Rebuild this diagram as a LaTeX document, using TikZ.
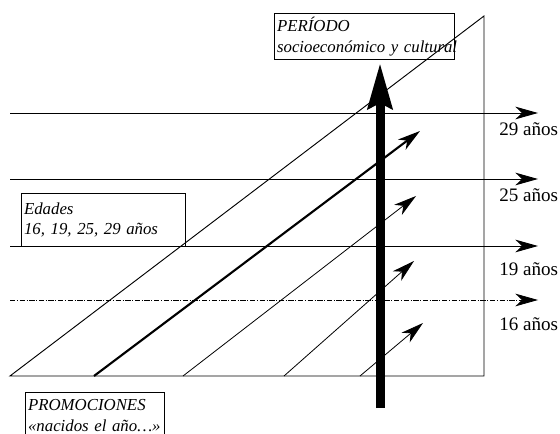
\documentclass[tikz,border=0pt]{standalone}
\usepackage{fontspec}
\setmainfont{Liberation Serif}
\usetikzlibrary{arrows.meta}

\begin{document}
\begin{tikzpicture}[x=0.75pt,y=-0.75pt,
                    caja/.style = {draw, line width=0.6pt, anchor=north west, align=left, inner xsep=2pt, inner ysep=1pt, font=\fontsize{12.6}{15.5}\selectfont\itshape},
                    edad/.style = {anchor=west, inner sep=0pt, font=\fontsize{14.3}{15}\selectfont},
                    punta/.style = {-{Stealth[length=17pt,width=9.5pt,inset=5pt]}}]
	\useasboundingbox (0,0) rectangle (560,434);
	
	% horizontal lines (edades)
	\coordinate (h29a) at (10,113);  \coordinate (h29b) at (538,113);
	\coordinate (h25a) at (10,179);  \coordinate (h25b) at (538,179);
	\coordinate (h19a) at (10,246);  \coordinate (h19b) at (538,246);
	\coordinate (h16a) at (10,300);  \coordinate (h16b) at (538,300);
	
	\node[edad] (l29) at (499,129) {29 años};
	\node[edad] (l25) at (499,195) {25 años};
	\node[edad] (l19) at (499,269) {19 años};
	\node[edad] (l16) at (499,324) {16 años};
	
	\draw[punta,line width=0.7pt] (h29a) to (h29b);
	\draw[punta,line width=0.7pt] (h25a) to (h25b);
	\draw[punta,line width=0.7pt] (h19a) to (h19b);
	\draw[punta,line width=0.6pt,dash pattern=on 4pt off 1.2pt on 0.8pt off 1.2pt] (h16a) to (h16b);
	
	% triangle
	\coordinate (o) at (10,376);
	\coordinate (br) at (484,376);
	\coordinate (tr) at (484,16);
	\draw[line width=0.7pt] (o) -- (br) -- (tr) -- cycle;
	
	% promociones
	\coordinate (p1a) at (94,376);   \coordinate (p1b) at (420,131);
	\coordinate (p2a) at (183,376);  \coordinate (p2b) at (416,196);
	\coordinate (p3a) at (284,376);  \coordinate (p3b) at (414,261);
	\coordinate (p4a) at (360,376);  \coordinate (p4b) at (423,323);
	
	\draw[punta,line width=1.6pt] (p1a) to (p1b);
	\draw[punta,line width=0.6pt] (p2a) to (p2b);
	\draw[punta,line width=0.6pt] (p3a) to (p3b);
	\draw[punta,line width=0.6pt] (p4a) to (p4b);
	
	% periodo
	\coordinate (va) at (380,408);
	\coordinate (vb) at (380,63);
	\draw[-{Stealth[length=34pt,width=18pt,inset=4pt]},line width=6.75pt] (va) to (vb);
	
	\node[caja,text width=131pt,minimum height=34.5pt] (periodo) at (274,13) {\mbox{PERÍODO}\\\mbox{socioeconómico y cultural}};
	\node[caja,text width=119pt,minimum height=39.75pt] (edades) at (21,193) {\mbox{Edades}\\\mbox{16, 19, 25, 29 años}};
	\node[caja,text width=100pt,minimum height=35pt] (promo) at (25,392) {\mbox{PROMOCIONES}\\\mbox{«nacidos el año…»}};
\end{tikzpicture}
\end{document}
